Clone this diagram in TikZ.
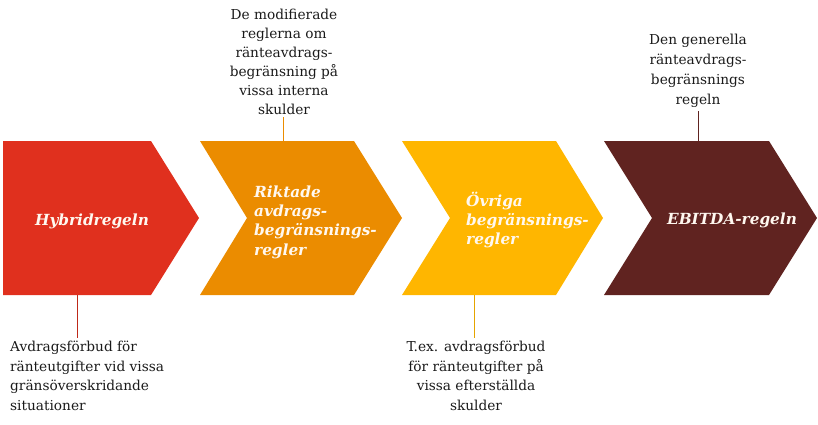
\documentclass[tikz,border=0pt]{standalone}
\usepackage{fontspec}
\setmainfont{DejaVu Serif}
\definecolor{pwcred}{HTML}{E0301E}
\definecolor{pwcorange}{HTML}{EB8C00}
\definecolor{pwcyellow}{HTML}{FFB600}
\definecolor{pwcbrown}{HTML}{602320}
\definecolor{txtcol}{HTML}{1A1A1A}
\definecolor{lblcol}{HTML}{FFF8F0}
\tikzset{
  lbl/.style={font=\fontsize{15.3}{19.3}\selectfont\bfseries\itshape, text=lblcol, inner sep=0pt},
  note/.style={font=\fontsize{13.7}{19.5}\selectfont, text=txtcol, inner sep=0pt},
  link/.style={line width=0.9pt}
}
\begin{document}
\begin{tikzpicture}[x=1pt,y=-1pt]
\useasboundingbox (0,0) rectangle (818,424);
% chevrons
\fill[pwcred] (3,141) -- (151,141) -- (199,218) -- (151,295) -- (3,295) -- cycle;
\fill[pwcorange] (200,141) -- (354,141) -- (402,218) -- (354,295) -- (200,295) -- (247,218) -- cycle;
\fill[pwcyellow] (402,141) -- (556,141) -- (603,218) -- (556,295) -- (402,295) -- (450,218) -- cycle;
\fill[pwcbrown] (604,141) -- (769,141) -- (817,218) -- (769,295) -- (604,295) -- (652,218) -- cycle;
% labels
\node[lbl, anchor=base] (hyb) at (92,225) {Hybridregeln};
\node[lbl, anchor=north west, align=left] (rik) at (254,185.5) {Riktade\\avdrags-\\begränsnings-\\regler};
\node[lbl, anchor=north west, align=left] (ovr) at (466,191.5) {Övriga\\begränsnings-\\regler};
\node[lbl, anchor=base] (ebi) at (732,224) {EBITDA-regeln};
% connector anchors
\coordinate (redB) at (77,295);
\coordinate (oraT) at (283,141);
\coordinate (yelB) at (474,295);
\coordinate (broT) at (698,141);
% notes
\node[note, anchor=north west, align=left] (n1) at (10,341) {Avdragsförbud för\\ränteutgifter vid vissa\\gränsöverskridande\\situationer};
\node[note, anchor=north, align=center, font=\fontsize{13.7}{19}\selectfont] (n2) at (284,9) {De modifierade\\reglerna om\\ränteavdrags-\\begränsning på\\vissa interna\\skulder};
\node[note, anchor=north, align=center] (n3) at (476,341) {T.ex. avdragsförbud\\för ränteutgifter på\\vissa efterställda\\skulder};
\node[note, anchor=north, align=center, font=\fontsize{13.7}{20}\selectfont] (n4) at (698,34) {Den generella\\ränteavdrags-\\begränsnings\\regeln};
% connectors
\draw[link, pwcred!85!black] (redB) -- ([yshift=3pt]redB |- n1.north);
\draw[link, pwcorange] (oraT) -- ([yshift=-2pt]oraT |- n2.south);
\draw[link, pwcyellow!90!black] (yelB) -- ([yshift=3pt]yelB |- n3.north);
\draw[link, pwcbrown] (broT) -- ([yshift=-3pt]broT |- n4.south);
\end{tikzpicture}
\end{document}
